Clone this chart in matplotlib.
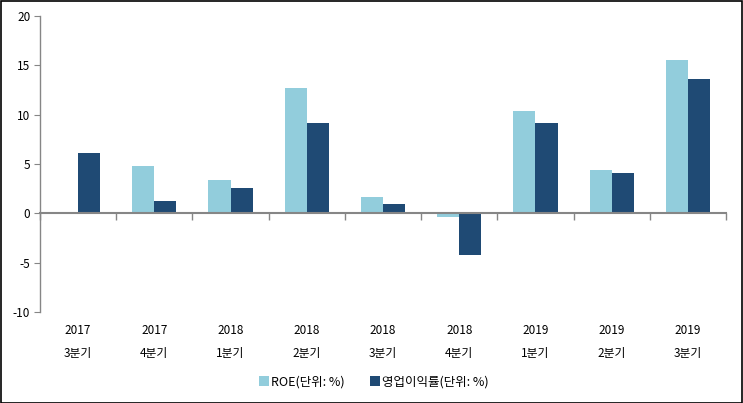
import matplotlib
matplotlib.use("Agg")
import matplotlib.pyplot as plt
import numpy as np
from matplotlib.patches import Rectangle

plt.rcParams['font.family'] = ['Noto Sans CJK KR', 'DejaVu Sans']
plt.rcParams['axes.unicode_minus'] = False

years = ["2017", "2017", "2018", "2018", "2018", "2018", "2019", "2019", "2019"]
quarters = ["3분기", "4분기", "1분기", "2분기", "3분기", "4분기", "1분기", "2분기", "3분기"]
roe = [0.0, 4.8, 3.4, 12.7, 1.7, -0.35, 10.35, 4.4, 15.5]
margin = [6.1, 1.2, 2.55, 9.15, 0.9, -4.2, 9.15, 4.05, 13.6]
series_names = ["ROE(단위: %)", "영업이익률(단위: %)"]
yticks = [-10, -5, 0, 5, 10, 15, 20]

c_light = "#92CDDC"
c_dark = "#1F4A74"
gray = "#868686"

W, H = 743, 403
fig = plt.figure(figsize=(W / 100, H / 100), dpi=100)
fig.patches.append(Rectangle((0.5 / W, 0.5 / H), 1 - 1.5 / W, 1 - 1.5 / H,
                             transform=fig.transFigure, fill=False,
                             edgecolor="black", linewidth=1.2))

ax = fig.add_axes([40 / W, 1 - 312 / H, (726 - 40) / W, (312 - 16) / H])
x = np.arange(len(years))
bw = 22 / 76
ax.bar(x - bw / 2, roe, width=bw, color=c_light, label=series_names[0])
ax.bar(x + bw / 2, margin, width=bw, color=c_dark, label=series_names[1])

ax.set_xlim(-0.5, len(years) - 0.5)
ax.set_ylim(-10, 20)
ax.set_yticks(yticks)
ax.tick_params(axis='y', direction='out', length=4, color=gray, labelsize=8.5, pad=3)

for s in ['top', 'right']:
    ax.spines[s].set_visible(False)
ax.spines['left'].set_color(gray)
ax.spines['bottom'].set_color(gray)
ax.spines['bottom'].set_position(('data', 0))
ax.spines['left'].set_linewidth(1.0)
ax.spines['bottom'].set_linewidth(1.5)
ax.set_xticks(np.arange(-0.5, len(years), 1.0))
ax.tick_params(axis='x', direction='out', length=5, color=gray, width=1.0, labelbottom=False)

sec = ax.secondary_xaxis(location=0.0)
sec.set_xticks(x)
sec.set_xticklabels([f"{yy}\n{q}" for yy, q in zip(years, quarters)], linespacing=2.0, fontsize=8.5)
sec.tick_params(length=0, pad=9)
sec.spines['bottom'].set_visible(False)

leg = fig.legend(loc='center', bbox_to_anchor=(374 / W, 1 - 382 / H), ncol=2, frameon=False,
                 fontsize=9, handlelength=0.8, handleheight=0.8, handletextpad=0.2,
                 columnspacing=2.0)

fig.savefig("out.png", dpi=100)
